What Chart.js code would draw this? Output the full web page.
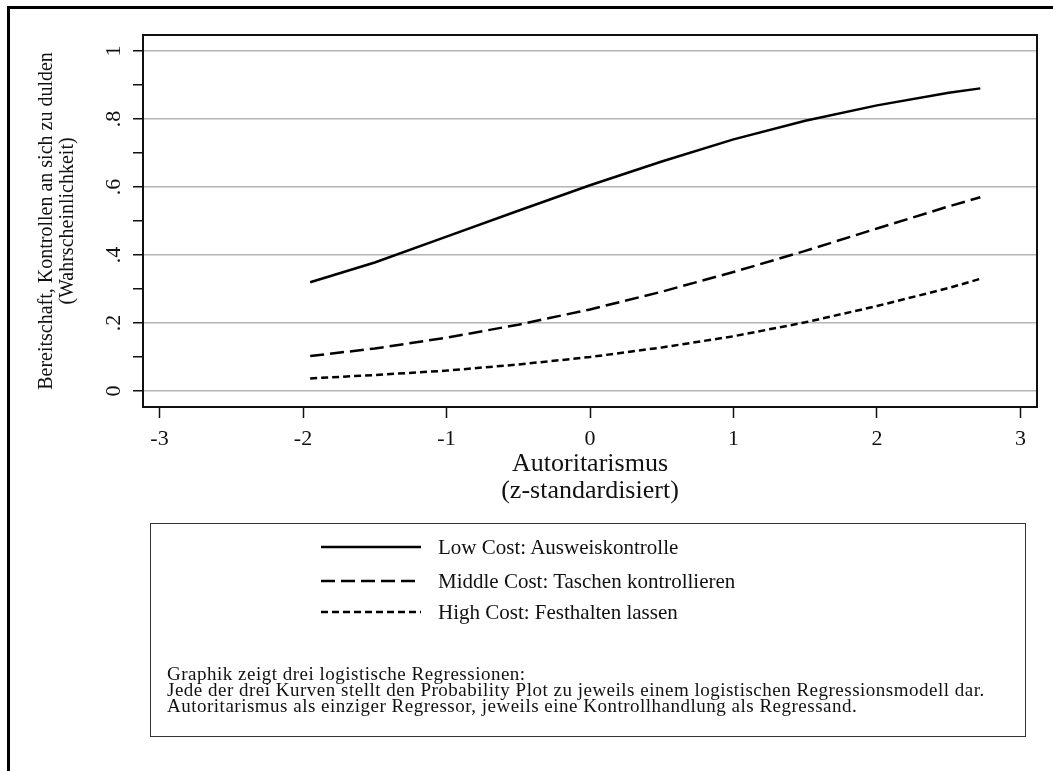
<!DOCTYPE html>
<html>
<head>
<meta charset="utf-8">
<script src="https://cdn.jsdelivr.net/npm/chart.js@4.4.1/dist/chart.umd.min.js"></script>
<style>
  body { margin: 0; background: #fff; }
  #wrap { position: relative; width: 1053px; height: 771px; overflow: hidden; font-family: "Liberation Serif", serif; color: #111; }
  #frame { position: absolute; left: 7px; top: 6px; right: -10px; bottom: -10px; border-top: 3px solid #000; border-left: 3px solid #000; }
  canvas { position: absolute; left: 0; top: 0; }
  #legend { position: absolute; left: 150px; top: 523px; width: 876px; height: 214px; border: 1.5px solid #333; box-sizing: border-box; }
  .item { position: absolute; left: 170px; height: 30px; font-size: 21px; white-space: nowrap; }
  .item svg { position: absolute; left: 0; top: 0; }
  .item span { position: absolute; left: 117px; top: 3px; }
  .note { position: absolute; left: 16px; font-size: 19px; letter-spacing: 0.5px; line-height: 16px; white-space: nowrap; }
</style>
</head>
<body>
<div id="wrap">
  <div id="frame"></div>
  <canvas id="chart" width="1053" height="771"></canvas>
  <div id="legend"></div>
</div>
<script>
// Autoritarismus (z-standardisiert)
const xValues = [-1.95, -1.5, -1, -0.5, 0, 0.5, 1, 1.5, 2, 2.5, 2.72];
const lowCost = [0.32, 0.378, 0.454, 0.53, 0.605, 0.675, 0.74, 0.795, 0.84, 0.877, 0.89];
const middleCost = [0.103, 0.125, 0.157, 0.195, 0.24, 0.292, 0.35, 0.412, 0.478, 0.543, 0.57];
const highCost = [0.037, 0.047, 0.06, 0.078, 0.1, 0.128, 0.161, 0.202, 0.25, 0.303, 0.33];

const seriesNames = ["Low Cost: Ausweiskontrolle", "Middle Cost: Taschen kontrollieren", "High Cost: Festhalten lassen"];
const xTicks = [-3, -2, -1, 0, 1, 2, 3];
const yTicks = [0, 0.1, 0.2, 0.3, 0.4, 0.5, 0.6, 0.7, 0.8, 0.9, 1];
const yTitle = ["Bereitschaft, Kontrollen an sich zu dulden", "(Wahrscheinlichkeit)"];
const xTitle = ["Autoritarismus", "(z-standardisiert)"];
const notes = [
  "Graphik zeigt drei logistische Regressionen:",
  "Jede der drei Kurven stellt den Probability Plot zu jeweils einem logistischen Regressionsmodell dar.",
  "Autoritarismus als einziger Regressor, jeweils eine Kontrollhandlung als Regressand."
];

const dashes = [[], [14, 6], [7, 4]];
const FONT = "Liberation Serif";

function toPoints(ys) {
  return xValues.map((x, i) => ({ x: x, y: ys[i] }));
}

function isMajor(v) {
  return Math.abs(Math.round(v * 5) - v * 5) < 1e-6;
}

function fmt(v) {
  if (v === 0) return "0";
  if (Math.abs(v - 1) < 1e-9) return "1";
  return "." + Math.round(v * 10);
}

const plotFrame = {
  id: "plotFrame",
  afterDraw(chart) {
    const a = chart.chartArea;
    const ctx = chart.ctx;
    ctx.save();
    ctx.strokeStyle = "#111";
    ctx.lineWidth = 2;
    ctx.strokeRect(a.left, a.top, a.right - a.left, a.bottom - a.top);
    ctx.restore();
  }
};

new Chart(document.getElementById("chart"), {
  type: "line",
  data: {
    datasets: [lowCost, middleCost, highCost].map((ys, i) => ({
      label: seriesNames[i],
      data: toPoints(ys),
      borderColor: "#000",
      borderWidth: 2.5,
      borderDash: dashes[i],
      pointRadius: 0,
      fill: false,
      tension: 0
    }))
  },
  options: {
    responsive: false,
    animation: false,
    layout: { padding: { left: 36.5, right: 16, top: 35, bottom: 266 } },
    plugins: { legend: { display: false }, tooltip: { enabled: false } },
    scales: {
      x: {
        type: "linear",
        min: -3.115,
        max: 3.115,
        afterBuildTicks: s => { s.ticks = xTicks.map(v => ({ value: v })); },
        afterFit: s => { s.height = 98; },
        border: { display: false },
        grid: { drawOnChartArea: false, drawTicks: true, tickLength: 11, tickColor: "#111", tickWidth: 1.5 },
        ticks: { color: "#111", font: { family: FONT, size: 22 }, padding: 8, maxRotation: 0, callback: v => String(v) },
        title: { display: true, text: xTitle, color: "#111", font: { family: FONT, size: 26, lineHeight: 1.04 }, padding: { top: 0, bottom: 0 } }
      },
      y: {
        min: -0.047,
        max: 1.047,
        afterBuildTicks: s => { s.ticks = yTicks.map(v => ({ value: v })); },
        afterFit: s => { s.width = 106.5; },
        border: { display: false },
        grid: {
          color: c => (c.tick && isMajor(c.tick.value) ? "#b4b4b4" : "rgba(0,0,0,0)"),
          lineWidth: 1.5,
          tickColor: "#111",
          tickWidth: 1.5,
          tickLength: 10
        },
        ticks: {
          color: "#111",
          font: { family: FONT, size: 22 },
          minRotation: 90,
          maxRotation: 90,
          crossAlign: "center",
          padding: 11,
          callback: v => (isMajor(v) ? fmt(v) : "")
        },
        title: { display: true, text: yTitle, color: "#111", font: { family: FONT, size: 20, lineHeight: 1.05 }, padding: { top: 0, bottom: 0 } }
      }
    }
  },
  plugins: [plotFrame]
});

// legend box under the plot
const legend = document.getElementById("legend");
const rowTops = [8, 42, 73];
seriesNames.forEach((name, i) => {
  const row = document.createElement("div");
  row.className = "item";
  row.style.top = rowTops[i] + "px";
  const dash = dashes[i].length ? ' stroke-dasharray="' + dashes[i].join(" ") + '"' : "";
  row.innerHTML = '<svg width="100" height="30"><line x1="0" y1="15" x2="100" y2="15" stroke="#000" stroke-width="2.5"' + dash + '/></svg><span>' + name + '</span>';
  legend.appendChild(row);
});
const noteTops = [142, 158, 174];
notes.forEach((t, i) => {
  const n = document.createElement("div");
  n.className = "note";
  n.style.top = noteTops[i] + "px";
  n.textContent = t;
  legend.appendChild(n);
});
</script>
</body>
</html>
